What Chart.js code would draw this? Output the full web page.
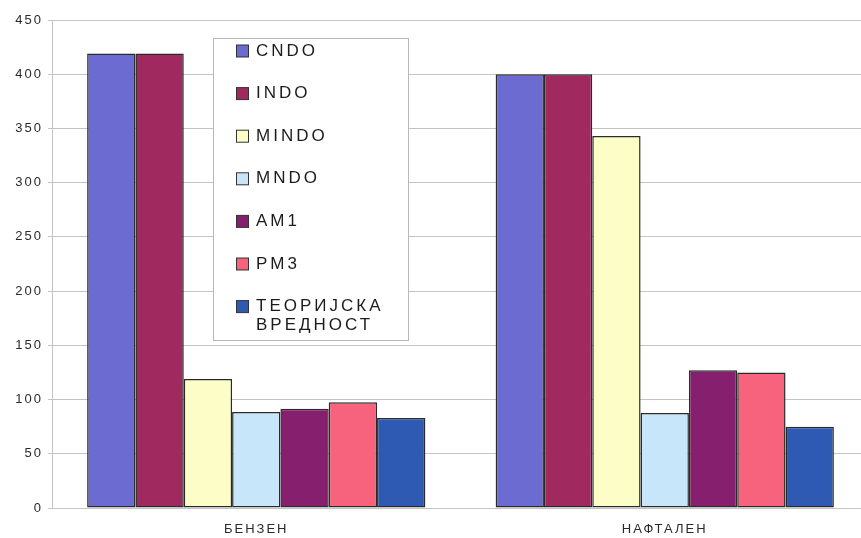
<!DOCTYPE html>
<html>
<head>
<meta charset="utf-8">
<script src="https://cdn.jsdelivr.net/npm/chart.js@4/dist/chart.umd.min.js"></script>
<style>
  html, body { margin: 0; padding: 0; background: #fff; overflow: hidden; }
  #wrap { width: 870px; height: 538px; }
</style>
</head>
<body>
<div id="wrap"><canvas id="c" width="870" height="538"></canvas></div>
<script>
// Categories and per-method values
const categories = ['БЕНЗЕН', 'НАФТАЛЕН'];
const cndo   = [419, 400];
const indo   = [419, 400];
const mindo  = [119, 343];
const mndo   = [88.5, 87.5];
const am1    = [91.5, 127];
const pm3    = [97.5, 125];
const theory = [83, 75];
const yTicks = [0, 50, 100, 150, 200, 250, 300, 350, 400, 450];

const seriesNames  = ['CNDO', 'INDO', 'MINDO', 'MNDO', 'AM1', 'PM3', 'ТЕОРИЈСКА ВРЕДНОСТ'];
const seriesValues = [cndo, indo, mindo, mndo, am1, pm3, theory];
const seriesColors = ['#6b6bd2', '#a02a60', '#fdfdc8', '#c8e6fa', '#86206e', '#f7627c', '#2e5ab4'];

const FONT = '"Liberation Sans", Arial, sans-serif';

// Spaced-out lettering for axis text
const letterSpacingPlugin = {
  id: 'letterSpacing',
  beforeDraw(chart) { chart.ctx.letterSpacing = '2px'; }
};

// Framed legend box sitting inside the plot
const boxLegend = {
  id: 'boxLegend',
  afterDatasetsDraw(chart) {
    const ctx = chart.ctx;
    ctx.save();
    const x0 = 213, y0 = 38, w = 195, h = 302;
    ctx.fillStyle = '#fff';
    ctx.fillRect(x0, y0, w, h);
    ctx.strokeStyle = '#b8b8b8';
    ctx.lineWidth = 1;
    ctx.strokeRect(x0 + 0.5, y0 + 0.5, w, h);
    ctx.font = '17px ' + FONT;
    ctx.letterSpacing = '3px';
    ctx.textBaseline = 'middle';
    ctx.textAlign = 'left';
    chart.data.datasets.forEach((ds, i) => {
      const cy = 51 + i * 42.6;
      ctx.fillStyle = ds.backgroundColor;
      ctx.fillRect(236.5, cy - 6, 12, 12);
      ctx.strokeStyle = '#333';
      ctx.strokeRect(236.5, cy - 6, 12, 12);
      ctx.fillStyle = '#1c1c1c';
      ds.label.split(' ').forEach((line, j) => ctx.fillText(line, 256, cy + j * 19));
    });
    ctx.restore();
  }
};

new Chart(document.getElementById('c'), {
  type: 'bar',
  data: {
    labels: categories,
    datasets: seriesNames.map((name, i) => ({
      label: name,
      data: seriesValues[i],
      backgroundColor: seriesColors[i],
      borderColor: '#2a2a2a',
      borderWidth: 1.5,
      borderSkipped: false,
      categoryPercentage: 0.828,
      barPercentage: 1.0
    }))
  },
  options: {
    responsive: false,
    animation: false,
    devicePixelRatio: 1,
    layout: { padding: { top: 20, right: 1, left: 0, bottom: 0 } },
    plugins: { legend: { display: false }, tooltip: { enabled: false } },
    scales: {
      x: {
        grid: { display: false, drawTicks: false },
        border: { display: false },
        ticks: { color: '#2a2a2a', font: { family: FONT, size: 13 }, padding: 14 },
        afterFit(scale) { scale.height = 30; }
      },
      y: {
        min: 0,
        max: 450,
        afterBuildTicks(scale) { scale.ticks = yTicks.map(v => ({ value: v })); },
        grid: { color: '#c4c4c4', lineWidth: 1, tickLength: 4 },
        border: { display: true, color: '#c4c4c4' },
        ticks: { color: '#2a2a2a', font: { family: FONT, size: 13 }, padding: 5 },
        afterFit(scale) { scale.width = 52; }
      }
    }
  },
  plugins: [letterSpacingPlugin, boxLegend]
});
</script>
</body>
</html>
